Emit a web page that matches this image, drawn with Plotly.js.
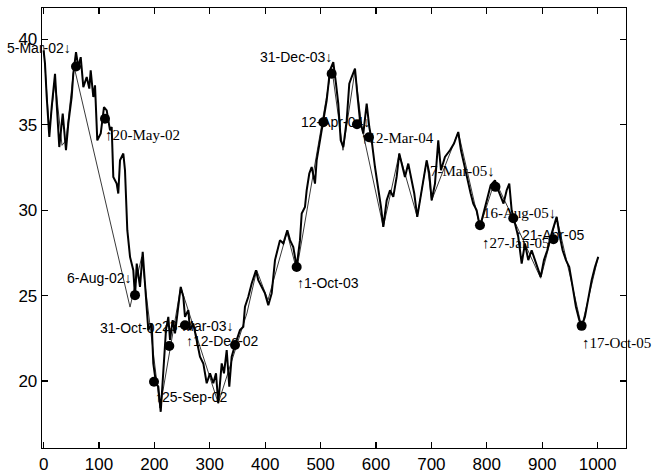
<!DOCTYPE html>
<html><head><meta charset="utf-8">
<script src="https://cdn.plot.ly/plotly-3.0.1.min.js"></script>
<style>html,body{margin:0;padding:0;background:#fff}</style>
</head><body><div id="chart" style="width:657px;height:473px"></div>
<script>
// main (thick) price series: trading-day index and value
var priceX = [0,2.5,5.6,10.3,14.6,20.6,23.6,28.3,34.5,40.4,44.6,50.7,53.6,58.5,62.6,67.0,71.7,77.8,82.5,85.0,89.7,92.8,96.9,103.1,109.0,113.9,119.9,122.9,125.8,131.9,134.8,137.9,143.9,146.9,151.1,156.0,161.9,165.0,168.1,174.0,178.9,183.0,189.0,195.1,198.0,202.9,207.0,211.4,214.3,217.3,220.9,225.1,228.2,233.0,237.2,243.1,247.5,252.2,255.2,261.2,264.3,270.2,276.3,282.3,288.3,294.4,300.4,306.3,311.2,315.3,321.5,325.6,330.5,335.2,339.5,345.5,354.5,360.5,363.5,369.5,375.6,383.4,387.5,393.7,399.6,405.6,411.7,417.7,426.7,432.7,439.9,444.8,450.7,456.8,462.8,465.9,471.8,474.9,479.6,483.9,489.9,492.9,498.9,504.8,511.0,516.9,522.9,527.8,531.9,536.3,541.0,547.1,551.8,556.1,562.1,566.2,571.1,577.1,583.2,587.9,592.2,598.2,604.1,609.0,613.2,619.3,625.3,631.2,637.3,642.0,646.4,652.3,658.3,664.4,669.1,674.5,679.4,685.4,691.5,696.2,700.5,706.5,712.4,717.3,724.5,733.5,740.8,748.5,753.4,758.8,764.8,770.9,775.6,781.7,787.7,793.6,799.8,807.0,814.8,820.7,830.2,835.9,840.6,844.9,850.9,856.8,863.0,868.9,874.9,881.0,887.0,892.9,897.3,903.2,909.2,915.3,921.2,926.1,930.8,936.9,942.9,948.9,955.0,960.9,966.9,971.2,977.2,983.2,989.3,995.3,1001.2];
var priceY = [39.36,38.58,36.63,34.29,36.04,37.99,36.24,33.70,35.66,33.51,35.07,36.63,37.99,39.26,38.38,38.96,37.21,37.80,37.12,38.19,36.63,37.31,34.09,34.49,36.04,35.85,34.68,34.87,31.95,31.56,30.98,32.92,33.32,32.34,28.83,27.27,26.49,24.93,26.88,25.51,27.56,25.71,22.98,23.37,21.03,19.87,19.67,18.20,19.67,21.03,22.98,23.76,22.40,23.57,22.79,24.35,25.51,24.93,23.76,24.15,22.98,23.37,22.40,21.42,21.03,19.87,20.45,19.87,20.45,18.70,21.03,20.45,21.81,19.67,21.42,22.11,22.98,23.18,24.35,24.93,25.71,26.49,25.91,25.51,25.13,24.44,25.13,27.08,28.25,28.05,28.83,28.25,27.85,26.68,28.25,29.81,30.19,31.17,32.15,32.53,31.56,32.92,34.09,35.07,36.43,38.19,38.67,37.41,36.24,34.09,33.70,35.26,37.41,37.80,38.29,36.82,35.26,34.49,36.24,34.87,34.09,32.53,31.36,30.19,29.02,30.58,31.17,30.78,31.95,33.32,32.73,31.95,32.73,31.75,30.98,29.61,30.58,31.95,32.92,32.15,30.58,31.56,34.09,32.34,33.12,33.51,33.90,34.58,33.51,32.73,31.75,30.98,30.39,30.00,29.02,29.81,30.58,31.46,31.75,31.17,30.39,31.17,31.56,30.00,29.22,28.44,26.88,28.05,27.08,27.66,27.08,26.49,26.10,27.08,27.66,28.44,29.02,29.61,28.64,27.66,27.08,26.68,25.51,24.35,23.57,23.18,23.76,24.93,25.91,26.68,27.27];

// thin (smoothed / zigzag) series
var trendX = [0,10.3,20.6,33.2,40.4,54.9,156.0,177.1,210.1,247.5,315.3,367.1,384.6,405.0,439.3,456.8,520.0,540.4,562.1,574.7,613.2,642.0,674.5,691.5,700.5,748.5,787.7,814.8,847.5,897.3,926.1,971.2,1001.2];
var trendY = [39.65,34.68,37.60,33.80,34.09,38.42,24.33,27.27,18.42,25.51,18.70,23.98,26.49,24.74,28.71,26.49,38.38,33.51,38.19,34.80,29.02,33.32,29.61,32.92,30.58,34.58,29.02,31.75,29.53,26.02,29.61,23.18,27.27];

// marked turning points
var pointX = [58.5,110.8,165.0,199.3,226.9,255.2,345.5,456.8,504.9,520.0,565.7,587.3,787.7,815.7,847.8,920.4,971.2];
var pointY = [38.42,35.36,25.03,19.96,22.05,23.27,22.11,26.68,35.15,37.99,35.03,34.27,29.12,31.37,29.53,28.30,23.23];

// date labels
var labelText = ["5-Mar-02\u2193","\u219120-May-02","6-Aug-02\u2193","31-Oct-02\u2193","23-Mar-03\u2193","\u219112-Dec-02","\u219125-Sep-02","\u21911-Oct-03","31-Dec-03\u2193","12-Apr-04\u2193","\u219112-Mar-04","7-Mar-05\u2193","16-Aug-05\u2193","\u219127-Jan-05","\u219121-Apr-05","\u219117-Oct-05"];
var labelX = [51.3,109.0,161.4,228.2,345.5,255.2,199.3,455.6,522.4,590.9,571.1,816.6,926.6,789.5,849.1,970.0];
var labelY = [39.47,34.39,26.02,23.10,23.22,22.34,19.06,25.73,38.95,35.15,34.21,32.28,29.82,28.07,28.54,22.22];
var labelSerif = [0,1,0,0,0,0,0,0,0,0,1,1,1,1,0,1];

var xTicks = [0,100,200,300,400,500,600,700,800,900,1000];
var yTicks = [20,25,30,35,40];

var traces = [
  {x: trendX, y: trendY, type:'scatter', mode:'lines', line:{color:'#3a3a3a', width:1}, hoverinfo:'skip'},
  {x: priceX, y: priceY, type:'scatter', mode:'lines', line:{color:'#000', width:2}, hoverinfo:'skip'},
  {x: pointX, y: pointY, type:'scatter', mode:'markers', marker:{color:'#000', size:10, symbol:'circle'}, hoverinfo:'skip'}
];

var annotations = labelText.map(function(t, i){
  var isUp = t.charAt(0) === '\u2191';
  return {
    x: labelX[i], y: labelY[i], xref:'x', yref:'y', text: t, showarrow:false,
    xanchor: isUp ? 'left' : 'right', yanchor:'middle', borderpad:0,
    font: labelSerif[i] ? {family:'Liberation Serif, Times New Roman, serif', size:15, color:'#000'}
                        : {family:'Liberation Sans, Arial, sans-serif', size:14, color:'#000'}
  };
});

var tickFont = {family:'Liberation Sans, Arial, sans-serif', size:17, color:'#000'};
var layout = {
  width:657, height:473,
  margin:{l:42, r:31, t:7.5, b:25, pad:0},
  paper_bgcolor:'#fff', plot_bgcolor:'#fff',
  showlegend:false,
  xaxis:{range:[-2.9,1051.3], tickvals:xTicks, ticktext:xTicks.map(String), ticks:'inside', ticklen:6, tickwidth:1.2, tickcolor:'#000',
         showline:true, linecolor:'#000', linewidth:1.3, mirror:'ticks', showgrid:false, zeroline:false, tickfont:tickFont, ticklabelstandoff:0},
  yaxis:{range:[16.08,41.84], tickvals:yTicks, ticktext:yTicks.map(String), ticks:'inside', ticklen:6, tickwidth:1.2, tickcolor:'#000',
         showline:true, linecolor:'#000', linewidth:1.3, mirror:'ticks', showgrid:false, zeroline:false, tickfont:tickFont},
  annotations: annotations
};
Plotly.newPlot('chart', traces, layout, {staticPlot:true, displayModeBar:false});
</script>
</body></html>
